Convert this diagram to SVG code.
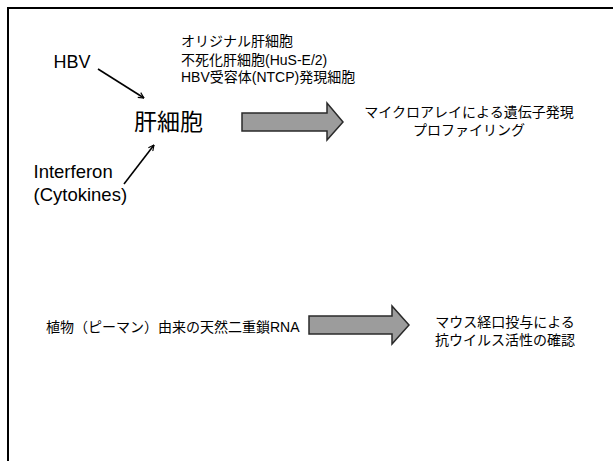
<svg xmlns="http://www.w3.org/2000/svg" width="613" height="461" viewBox="0 0 613 461">
<style>
.t{font-family:"Liberation Sans","Noto Sans CJK JP",sans-serif;fill:#000}
.big{font-size:18.5px}
.jp{font-size:14px}
.thin{stroke:#000;stroke-width:1.6;fill:none}
.block{fill:#9c9c9c;stroke:#2a2a2a;stroke-width:1.5;stroke-linejoin:miter}
</style>
<defs>
<marker id="ah" viewBox="0 0 10 10" refX="9" refY="5" markerWidth="7" markerHeight="7" orient="auto" markerUnits="userSpaceOnUse">
<path d="M1,1 L9,5 L1,9" fill="none" stroke="#000" stroke-width="1.6"/>
</marker>
</defs>
<rect width="613" height="461" fill="#fff"/>
<g id="frame">
<path d="M8,461 L8,8 L613,8" fill="none" stroke="#000" stroke-width="2"/>
</g>
<g id="hbv"><text class="t" x="53.5" y="68" font-size="18">HBV</text></g>
<g id="interferon">
<text class="t big" x="33.5" y="178">Interferon</text>
<text class="t big" x="33.5" y="201">(Cytokines)</text>
</g>
<g id="hepatocyte"><text class="t" x="134" y="130" font-size="23">肝細胞</text></g>
<g id="celltypes">
<text class="t jp" x="181" y="46">オリジナル肝細胞</text>
<text class="t jp" x="181" y="64.5">不死化肝細胞(HuS-E/2)</text>
<text class="t jp" x="181" y="82">HBV受容体(NTCP)発現細胞</text>
</g>
<g id="microarray">
<text class="t jp" x="469" y="117" text-anchor="middle">マイクロアレイによる遺伝子発現</text>
<text class="t jp" x="469" y="134.5" text-anchor="middle">プロファイリング</text>
</g>
<g id="dsrna"><text class="t jp" x="46" y="332">植物（ピーマン）由来の天然二重鎖RNA</text></g>
<g id="mouse">
<text class="t jp" x="505" y="326.5" text-anchor="middle">マウス経口投与による</text>
<text class="t jp" x="505" y="344.5" text-anchor="middle">抗ウイルス活性の確認</text>
</g>
<g id="connectors">
<line class="thin" x1="98" y1="69" x2="144" y2="98" marker-end="url(#ah)"/>
<line class="thin" x1="124" y1="184" x2="154" y2="145" marker-end="url(#ah)"/>
<path class="block" d="M242,113 L327,113 L327,103 L343,122 L327,140 L327,131 L242,131 Z"/>
<path class="block" d="M309,316 L392,316 L392,306 L409,325 L392,344 L392,334 L309,334 Z"/>
</g>
</svg>
